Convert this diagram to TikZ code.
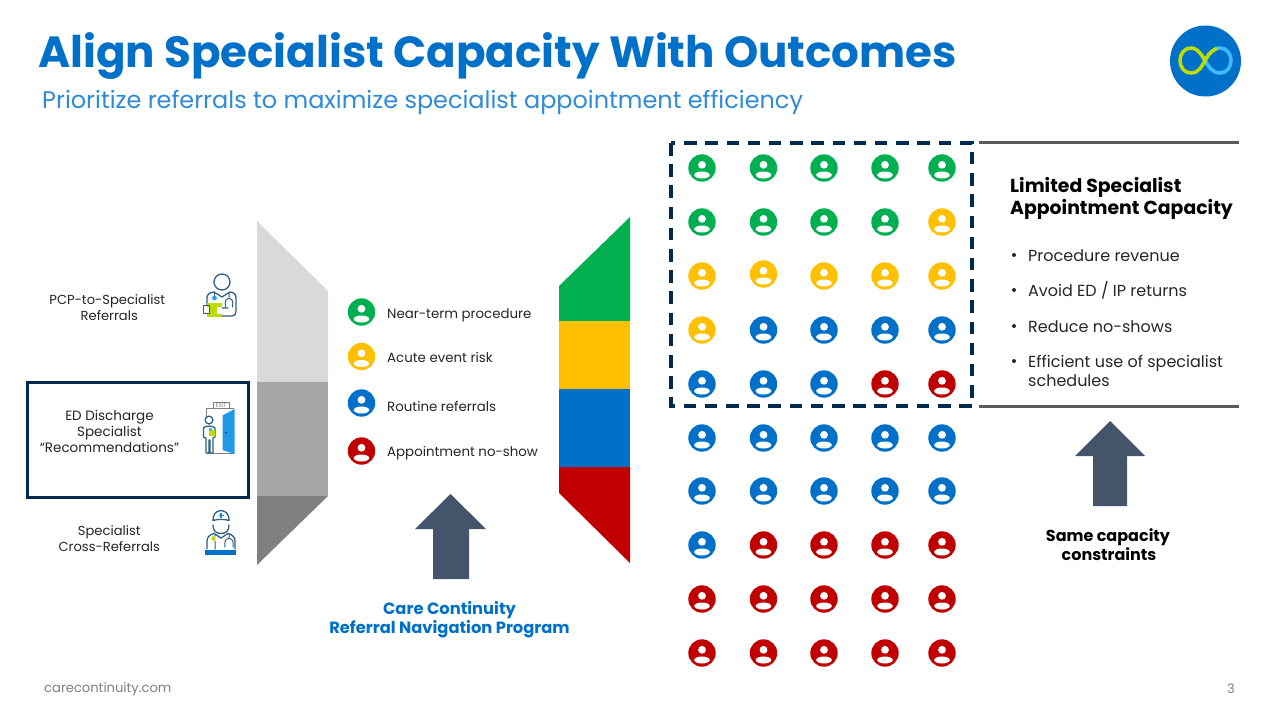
\documentclass[tikz,border=0pt]{standalone}
\usepackage{fontspec}
\setmainfont{Poppins}
\usetikzlibrary{shapes.geometric}
\definecolor{ccblue}{HTML}{0070C8}
\definecolor{subblue}{HTML}{2E8BD8}
\definecolor{cgreen}{HTML}{00B050}
\definecolor{cyellow}{HTML}{FFC000}
\definecolor{cred}{HTML}{C00000}
\definecolor{navy}{HTML}{002B4F}
\definecolor{slate}{HTML}{44546A}
\definecolor{lime}{HTML}{BFDC00}
\definecolor{sky}{HTML}{3DBBFF}
\definecolor{iconline}{HTML}{2F5F85}
\definecolor{txt}{HTML}{262626}
\tikzset{
  x=1pt,y=-1pt,
  lbl/.style={font=\fontsize{13.1}{16}\selectfont,text=txt,align=center,inner sep=0pt},
  leg/.style={font=\fontsize{13.35}{16}\selectfont,text=txt,anchor=west,inner sep=0pt},
  bul/.style={font=\fontsize{16}{19}\selectfont,text=txt,anchor=north west,inner sep=0pt,align=left},
  hd/.style={font=\bfseries\fontsize{18.85}{22}\selectfont,text=black,anchor=north west,inner sep=0pt,align=left},
  progtxt/.style={font=\bfseries\fontsize{16.3}{19}\selectfont,text=ccblue,align=center,inner sep=0pt},
  captxt/.style={font=\bfseries\fontsize{16}{19}\selectfont,text=black,align=center,inner sep=0pt},
  iln/.style={draw=iconline,line width=1.3pt,line cap=round,line join=round},
  person/.pic={
    \fill[pic actions] (0,0) circle[radius=13.7];
    \fill[white] (0,-3.2) circle[radius=3.9];
    \fill[white] (0,7) ellipse[x radius=7.8,y radius=3.5];
  }
}
\begin{document}
\begin{tikzpicture}
\useasboundingbox (0,0) rectangle (1280,720);
\fill[white] (0,0) rectangle (1280,720);

% header
\node[anchor=west,inner sep=0pt,text=ccblue,font=\bfseries\fontsize{43.6}{50}\selectfont] (title) at (38,56) {Align Specialist Capacity With Outcomes};
\node[anchor=west,inner sep=0pt,text=subblue,font=\fontsize{23.95}{28}\selectfont] (subtitle) at (42,102.5) {Prioritize referrals to maximize specialist appointment efficiency};

% logo
\fill[ccblue] (1205.5,61) circle[radius=35.5];
\draw[sky,line width=3.6pt] (1205,60.5) .. controls (1211,50) and (1216,48) .. (1220,48) .. controls (1227,48) and (1231,54) .. (1231,60.5) .. controls (1231,67) and (1227,73) .. (1220,73) .. controls (1212,73) and (1208,66) .. (1205,60.5);
\draw[lime,line width=3.6pt] (1205,60.5) .. controls (1199,50) and (1195,48) .. (1191,48) .. controls (1184,48) and (1180,54) .. (1180,60.5) .. controls (1180,67) and (1184,73) .. (1191,73) .. controls (1199,73) and (1202,66) .. (1205,60.5) .. controls (1208,55) and (1210,52) .. (1217,48.2);

% left source labels
\node[lbl] (pcp) at (107.3,307.5) {PCP-to-Specialist\\\hspace{4pt}Referrals};
\node[lbl,font=\fontsize{13.5}{16}\selectfont] (edl) at (109.5,431.5) {ED Discharge\\Specialist\\“Recommendations”};
\node[lbl] (xref) at (109.3,538.5) {Specialist\\Cross-Referrals};
\draw[navy,line width=3pt] (27,382) rectangle (248.5,497);

% doctor icon 1
\draw[iln] (222,282) circle[radius=8];
\draw[iln] (207,306) -- (207,298) .. controls (207,294) and (210,292.5) .. (214,292) -- (222,297) -- (230,292) .. controls (234,292.5) and (236,294) .. (236,298) -- (236,311) .. controls (236,314) and (235,316) .. (232,316) -- (222,316) .. controls (219,315) and (218,311) .. (218,308) -- (228,308);
\fill[lime] (206.7,303.3) rectangle (221.7,317.3);
\fill[white] (206,307) rectangle (210,314);
\fill[white] (216.7,307) rectangle (222.4,314);
\draw[iln] (203.3,305.5) -- (209.3,305.5) -- (209.3,313.5) -- (203.3,313.5) -- cycle;
\fill[sky!70!ccblue] (214.5,298) circle[radius=2.4];
\draw[iln,line width=1pt] (214.5,292.5) -- (214.5,296);
\draw[iln,line width=1pt] (229,292.5) -- (229,298) (225.5,307) .. controls (224.5,301) and (226,298.5) .. (229,298.5) .. controls (232,298.5) and (233.5,301) .. (232.5,307);

% door icon
\draw[line width=1pt,draw=gray] (206.5,423) -- (206.5,408.5) -- (234,408.5) (206.5,453.5) -- (234,453.5);
\draw[draw=gray,line width=.8pt,fill=white] (213.5,402) rectangle (229,408.5);
\node[inner sep=0pt,text=gray,font=\fontsize{5.5}{5}\selectfont] (exit) at (221,405.2) {EXIT};
\fill[sky!55!ccblue] (222.5,415.5) -- (234.5,409) -- (234.5,454) -- (222.5,450) -- cycle;
\fill[navy] (226,432.5) circle[radius=.9];
\draw[iln,fill=white] (209,420) circle[radius=3.9];
\draw[iln,fill=white] (206,453) -- (206,438) -- (203.5,437) -- (203.5,428) .. controls (204,425.5) and (214,425.5) .. (215,428) -- (215,437) -- (213,438) -- (213,453) -- (210,453) -- (210,440) -- (209,440) -- (209,453) -- cycle;
\fill[lime] (208.5,429.5) rectangle (215,436);
\fill[sky] (209,428) rectangle (212,431);

% doctor icon 3
\draw[iln] (213,525) .. controls (213,531) and (216,533.5) .. (221,533.5) .. controls (226,533.5) and (229,531) .. (229,525);
\draw[iln] (213,520.5) .. controls (213,515) and (215,511) .. (221,510.5) .. controls (227,511) and (229,515) .. (229,520.5) .. controls (225,519) and (217,519) .. (213,520.5) -- cycle;
\draw[ccblue!70!sky,line width=1.4pt] (221,513) -- (221,518) (218.5,515.5) -- (223.5,515.5);
\draw[iln] (207,549) -- (207,541) .. controls (207,537) and (210,534.5) .. (214,533.5) -- (221,538) -- (228,533.5) .. controls (232,534.5) and (235,537) .. (235,541) -- (235,549);
\fill[lime] (213.5,538.5) circle[radius=2.3];
\draw[iln,line width=1pt] (215,534.5) -- (215,536) (215,541) -- (215,549) (229,534.5) -- (229,538) (225,547) .. controls (224,541) and (226,538.5) .. (229,538.5) .. controls (232,538.5) and (234,541) .. (233,547);
\fill[ccblue] (205,550) rectangle (236,554.5);

% left funnel
\fill[black!15] (257,221) -- (328,291) -- (328,382) -- (257,382) -- cycle;
\fill[black!35] (257,382) rectangle (328,496);
\fill[black!50] (257,496) -- (328,496) -- (257,565) -- cycle;

% legend
\pic[fill=cgreen] at (361.5,312) {person};
\pic[fill=cyellow] at (361.5,356.5) {person};
\pic[fill=ccblue] at (361.5,403) {person};
\pic[fill=cred] at (361.5,451) {person};
\node[leg] (l1) at (387,315) {Near-term procedure};
\node[leg] (l2) at (387,357.5) {Acute event risk};
\node[leg] (l3) at (387,406.5) {Routine referrals};
\node[leg] (l4) at (387,453) {Appointment no-show};

% arrow + program
\fill[slate] (450.5,494) -- (486,529) -- (469,529) -- (469,579) -- (433,579) -- (433,529) -- (415,529) -- cycle;
\node[progtxt] (prog) at (449.5,619.5) {Care Continuity\\Referral Navigation Program};

% right funnel
\fill[cgreen] (559,286) -- (630,217) -- (630,321) -- (559,321) -- cycle;
\fill[cyellow] (559,321) rectangle (630,389);
\fill[ccblue] (559,389) rectangle (630,467);
\fill[cred] (559,467) -- (630,467) -- (630,563) -- (559,493) -- cycle;

% grid of people
\foreach \x in {702,763.5,824,885,942}{\pic[fill=cgreen] at (\x,168) {person};}
\foreach \x in {702,763.5,824,885}{\pic[fill=cgreen] at (\x,222) {person};}
\pic[fill=cyellow] at (942,222) {person};
\foreach \x/\yy in {702/276,763.5/274,824/276,885/276,942/276}{\pic[fill=cyellow] at (\x,\yy) {person};}
\pic[fill=cyellow] at (702,330) {person};
\foreach \x in {763.5,824,885,942}{\pic[fill=ccblue] at (\x,330) {person};}
\foreach \x in {702,763.5,824}{\pic[fill=ccblue] at (\x,384) {person};}
\foreach \x in {885,942}{\pic[fill=cred] at (\x,384) {person};}
\foreach \x in {702,763.5,824,885,942}{
  \pic[fill=ccblue] at (\x,438) {person};
  \pic[fill=ccblue] at (\x,491) {person};
  \pic[fill=cred] at (\x,599) {person};
  \pic[fill=cred] at (\x,653) {person};
}
\pic[fill=ccblue] at (702,545) {person};
\foreach \x in {763.5,824,885,942}{\pic[fill=cred] at (\x,545) {person};}

% capacity box
\draw[navy,line width=3.4pt,dash pattern=on 12.5pt off 8.7pt] (671,143) rectangle (972,406);
\draw[black!65,line width=3.2pt] (979,142.5) -- (1239,142.5);
\draw[black!65,line width=3.2pt] (979,406.5) -- (1239,406.5);

\node[hd] (cap) at (1010,177) {Limited Specialist\\Appointment Capacity};
\node[bul] (b1) at (1028,249) {Procedure revenue};
\node[bul] (b2) at (1028,281) {Avoid ED / IP returns};
\node[bul] (b3) at (1028,320) {Reduce no-shows};
\node[bul] (b4) at (1028,355) {Efficient use of specialist\\schedules};
\foreach \yy in {255,290,326,361}{
  \fill[txt] (1014,\yy) circle[radius=2];
}

\fill[slate] (1110,421) -- (1145,456) -- (1127,456) -- (1127,506) -- (1093,506) -- (1093,456) -- (1075,456) -- cycle;
\node[captxt] (same) at (1108,544.5) {Same capacity\\\hspace{2pt}constraints};

% footer
\node[anchor=west,inner sep=0pt,text=black!50,font=\fontsize{13.1}{16}\selectfont] (foot) at (44,689.5) {carecontinuity.com};
\node[anchor=east,inner sep=0pt,text=black!50,font=\fontsize{13}{16}\selectfont] (page) at (1235,688.5) {3};
\end{tikzpicture}
\end{document}
